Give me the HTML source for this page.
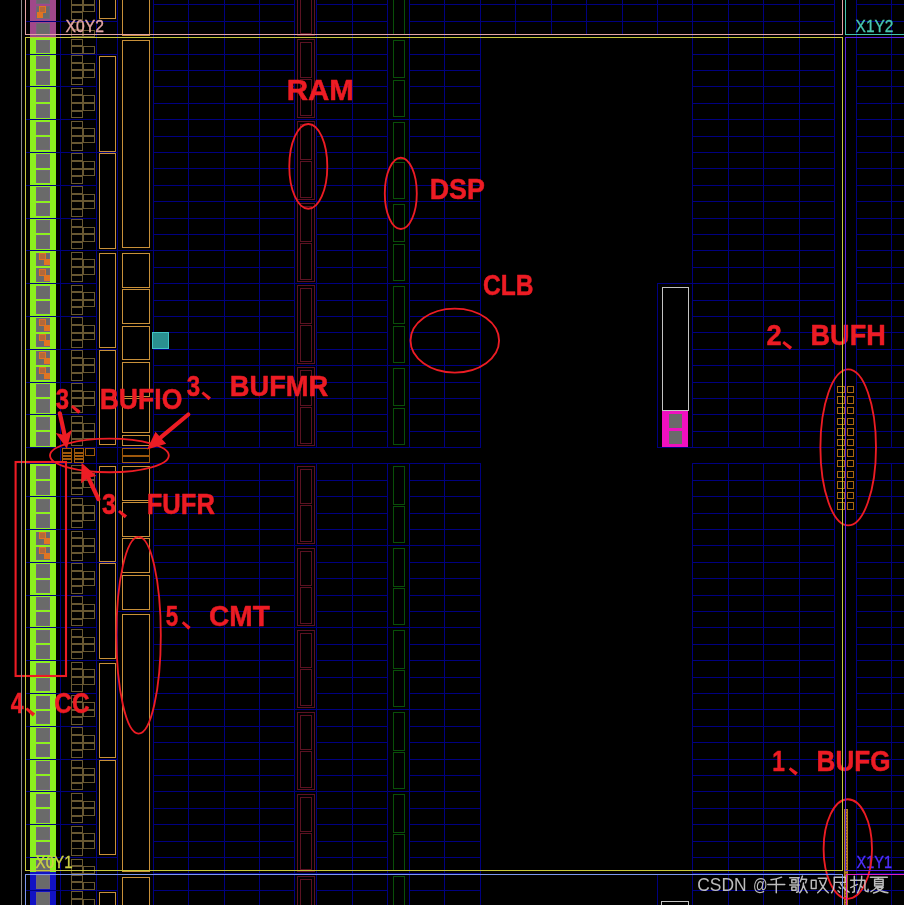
<!DOCTYPE html>
<html><head><meta charset="utf-8"><title>Device</title>
<style>
html,body{margin:0;padding:0;background:#000;}
body{width:904px;height:905px;overflow:hidden;font-family:"Liberation Sans",sans-serif;}
svg{display:block;}
text{font-family:"Liberation Sans",sans-serif;}
</style></head><body>
<svg width="904" height="905" viewBox="0 0 904 905">
<rect width="904" height="905" fill="#000"/>
<g shape-rendering="crispEdges">
<path d="M153 4.5H295M316 4.5H388M409 4.5H835M856 4.5H905M153 21.5H295M316 21.5H388M409 21.5H835M856 21.5H905M153 37.5H481M692 37.5H835M856 37.5H905M153 54.5H295M316 54.5H388M409 54.5H481M692 54.5H835M856 54.5H905M153 70.5H295M316 70.5H388M409 70.5H481M692 70.5H835M856 70.5H905M153 86.5H295M316 86.5H388M409 86.5H481M692 86.5H835M856 86.5H905M153 103.5H295M316 103.5H388M409 103.5H481M692 103.5H835M856 103.5H905M153 119.5H481M692 119.5H835M856 119.5H905M153 136.5H295M316 136.5H388M409 136.5H481M692 136.5H835M856 136.5H905M153 152.5H295M316 152.5H388M409 152.5H481M692 152.5H835M856 152.5H905M153 168.5H295M316 168.5H388M409 168.5H481M692 168.5H835M856 168.5H905M153 185.5H295M316 185.5H388M409 185.5H481M692 185.5H835M856 185.5H905M153 201.5H481M692 201.5H835M856 201.5H905M153 218.5H295M316 218.5H388M409 218.5H481M692 218.5H835M856 218.5H905M153 234.5H295M316 234.5H388M409 234.5H481M692 234.5H835M856 234.5H905M153 250.5H295M316 250.5H388M409 250.5H481M692 250.5H835M856 250.5H905M153 267.5H295M316 267.5H388M409 267.5H481M692 267.5H835M856 267.5H905M153 283.5H481M692 283.5H835M856 283.5H905M153 300.5H295M316 300.5H388M409 300.5H481M692 300.5H835M856 300.5H905M153 316.5H295M316 316.5H388M409 316.5H481M692 316.5H835M856 316.5H905M153 332.5H295M316 332.5H388M409 332.5H481M692 332.5H835M856 332.5H905M153 349.5H295M316 349.5H388M409 349.5H481M692 349.5H835M856 349.5H905M153 365.5H481M692 365.5H835M856 365.5H905M153 382.5H295M316 382.5H388M409 382.5H481M692 382.5H835M856 382.5H905M153 398.5H295M316 398.5H388M409 398.5H481M692 398.5H835M856 398.5H905M153 414.5H295M316 414.5H388M409 414.5H481M692 414.5H835M856 414.5H905M153 431.5H295M316 431.5H388M409 431.5H481M692 431.5H835M856 431.5H905M153 447.5H481M692 447.5H835M856 447.5H905M153 463.5H481M692 463.5H835M856 463.5H905M153 480.5H295M316 480.5H388M409 480.5H481M692 480.5H835M856 480.5H905M153 496.5H295M316 496.5H388M409 496.5H481M692 496.5H835M856 496.5H905M153 513.5H295M316 513.5H388M409 513.5H481M692 513.5H835M856 513.5H905M153 529.5H295M316 529.5H388M409 529.5H481M692 529.5H835M856 529.5H905M153 545.5H481M692 545.5H835M856 545.5H905M153 562.5H295M316 562.5H388M409 562.5H481M692 562.5H835M856 562.5H905M153 578.5H295M316 578.5H388M409 578.5H481M692 578.5H835M856 578.5H905M153 595.5H295M316 595.5H388M409 595.5H481M692 595.5H835M856 595.5H905M153 611.5H295M316 611.5H388M409 611.5H481M692 611.5H835M856 611.5H905M153 627.5H481M692 627.5H835M856 627.5H905M153 644.5H295M316 644.5H388M409 644.5H481M692 644.5H835M856 644.5H905M153 660.5H295M316 660.5H388M409 660.5H481M692 660.5H835M856 660.5H905M153 677.5H295M316 677.5H388M409 677.5H481M692 677.5H835M856 677.5H905M153 693.5H295M316 693.5H388M409 693.5H481M692 693.5H835M856 693.5H905M153 709.5H481M692 709.5H835M856 709.5H905M153 726.5H295M316 726.5H388M409 726.5H481M692 726.5H835M856 726.5H905M153 742.5H295M316 742.5H388M409 742.5H481M692 742.5H835M856 742.5H905M153 759.5H295M316 759.5H388M409 759.5H481M692 759.5H835M856 759.5H905M153 775.5H295M316 775.5H388M409 775.5H481M692 775.5H835M856 775.5H905M153 791.5H481M692 791.5H835M856 791.5H905M153 808.5H295M316 808.5H388M409 808.5H481M692 808.5H835M856 808.5H905M153 824.5H295M316 824.5H388M409 824.5H481M692 824.5H835M856 824.5H905M153 841.5H295M316 841.5H388M409 841.5H481M692 841.5H835M856 841.5H905M153 857.5H295M316 857.5H388M409 857.5H481M692 857.5H835M856 857.5H905M153 873.5H481M692 873.5H835M856 873.5H905M153 890.5H295M316 890.5H388M409 890.5H481M692 890.5H835M856 890.5H905M153.5 0V448M153.5 463V906M188.5 0V448M188.5 463V906M224.5 0V448M224.5 463V906M259.5 0V448M259.5 463V906M294.5 0V448M294.5 463V906M316.5 0V448M316.5 463V906M352.5 0V448M352.5 463V906M387.5 0V448M387.5 463V906M409.5 0V448M409.5 463V906M444.5 0V448M444.5 463V906M480.5 0V448M480.5 463V906M692.5 0V448M692.5 463V906M728.5 0V448M728.5 463V906M763.5 0V448M763.5 463V906M799.5 0V448M799.5 463V906M834.5 0V448M834.5 463V906M515.5 0V35M551.5 0V35M586.5 0V35M622.5 0V35M657.5 0V35M856.5 0V906M891.5 0V448M891.5 463V906M834.5 447V464M60.5 0V906M96.5 0V906M117.5 0V906M60 447.5H154M60 414.5H97M60 382.5H97M60 349.5H118M60 316.5H97M60 283.5H97M60 250.5H154M60 218.5H97M60 185.5H97M60 152.5H118M60 119.5H97M60 86.5H97M60 54.5H118M60 463.5H154M60 496.5H97M60 529.5H97M60 562.5H118M60 595.5H97M60 627.5H97M60 660.5H118M60 693.5H97M60 726.5H97M60 759.5H118M60 791.5H97M60 824.5H97M60 857.5H118M60 21.5H118M60 890.5H118M117 611.5H154M657.5 283V448M657 283.5H693M657 447.5H693M657.5 874V906" stroke="#000080" stroke-width="1" fill="none"/>
<rect x="30" y="0" width="26" height="37" fill="#a0488a"/>
<rect x="30" y="37" width="26" height="411" fill="#8cf01e"/>
<rect x="30" y="464" width="26" height="408" fill="#8cf01e"/>
<rect x="30" y="872" width="26" height="33" fill="#1212c4"/>
<rect x="36" y="417" width="14" height="13" fill="#6a6a6a"/>
<rect x="36.5" y="417.5" width="13" height="12" fill="none" stroke="#77628c" stroke-opacity="0.5"/>
<rect x="36" y="432" width="14" height="14" fill="#6a6a6a"/>
<rect x="36.5" y="432.5" width="13" height="13" fill="none" stroke="#77628c" stroke-opacity="0.5"/>
<rect x="36" y="384" width="14" height="13" fill="#6a6a6a"/>
<rect x="36.5" y="384.5" width="13" height="12" fill="none" stroke="#77628c" stroke-opacity="0.5"/>
<rect x="36" y="399" width="14" height="14" fill="#6a6a6a"/>
<rect x="36.5" y="399.5" width="13" height="13" fill="none" stroke="#77628c" stroke-opacity="0.5"/>
<rect x="36" y="351" width="14" height="14" fill="#6a6a6a"/>
<rect x="36.5" y="351.5" width="13" height="13" fill="none" stroke="#77628c" stroke-opacity="0.5"/>
<rect x="36" y="367" width="14" height="13" fill="#6a6a6a"/>
<rect x="36.5" y="367.5" width="13" height="12" fill="none" stroke="#77628c" stroke-opacity="0.5"/>
<rect x="36" y="318" width="14" height="14" fill="#6a6a6a"/>
<rect x="36.5" y="318.5" width="13" height="13" fill="none" stroke="#77628c" stroke-opacity="0.5"/>
<rect x="36" y="334" width="14" height="13" fill="#6a6a6a"/>
<rect x="36.5" y="334.5" width="13" height="12" fill="none" stroke="#77628c" stroke-opacity="0.5"/>
<rect x="36" y="286" width="14" height="13" fill="#6a6a6a"/>
<rect x="36.5" y="286.5" width="13" height="12" fill="none" stroke="#77628c" stroke-opacity="0.5"/>
<rect x="36" y="301" width="14" height="13" fill="#6a6a6a"/>
<rect x="36.5" y="301.5" width="13" height="12" fill="none" stroke="#77628c" stroke-opacity="0.5"/>
<rect x="36" y="253" width="14" height="13" fill="#6a6a6a"/>
<rect x="36.5" y="253.5" width="13" height="12" fill="none" stroke="#77628c" stroke-opacity="0.5"/>
<rect x="36" y="268" width="14" height="14" fill="#6a6a6a"/>
<rect x="36.5" y="268.5" width="13" height="13" fill="none" stroke="#77628c" stroke-opacity="0.5"/>
<rect x="36" y="220" width="14" height="13" fill="#6a6a6a"/>
<rect x="36.5" y="220.5" width="13" height="12" fill="none" stroke="#77628c" stroke-opacity="0.5"/>
<rect x="36" y="235" width="14" height="14" fill="#6a6a6a"/>
<rect x="36.5" y="235.5" width="13" height="13" fill="none" stroke="#77628c" stroke-opacity="0.5"/>
<rect x="36" y="187" width="14" height="14" fill="#6a6a6a"/>
<rect x="36.5" y="187.5" width="13" height="13" fill="none" stroke="#77628c" stroke-opacity="0.5"/>
<rect x="36" y="203" width="14" height="13" fill="#6a6a6a"/>
<rect x="36.5" y="203.5" width="13" height="12" fill="none" stroke="#77628c" stroke-opacity="0.5"/>
<rect x="36" y="154" width="14" height="14" fill="#6a6a6a"/>
<rect x="36.5" y="154.5" width="13" height="13" fill="none" stroke="#77628c" stroke-opacity="0.5"/>
<rect x="36" y="170" width="14" height="13" fill="#6a6a6a"/>
<rect x="36.5" y="170.5" width="13" height="12" fill="none" stroke="#77628c" stroke-opacity="0.5"/>
<rect x="36" y="122" width="14" height="13" fill="#6a6a6a"/>
<rect x="36.5" y="122.5" width="13" height="12" fill="none" stroke="#77628c" stroke-opacity="0.5"/>
<rect x="36" y="137" width="14" height="13" fill="#6a6a6a"/>
<rect x="36.5" y="137.5" width="13" height="12" fill="none" stroke="#77628c" stroke-opacity="0.5"/>
<rect x="36" y="89" width="14" height="13" fill="#6a6a6a"/>
<rect x="36.5" y="89.5" width="13" height="12" fill="none" stroke="#77628c" stroke-opacity="0.5"/>
<rect x="36" y="104" width="14" height="14" fill="#6a6a6a"/>
<rect x="36.5" y="104.5" width="13" height="13" fill="none" stroke="#77628c" stroke-opacity="0.5"/>
<rect x="36" y="56" width="14" height="13" fill="#6a6a6a"/>
<rect x="36.5" y="56.5" width="13" height="12" fill="none" stroke="#77628c" stroke-opacity="0.5"/>
<rect x="36" y="71" width="14" height="14" fill="#6a6a6a"/>
<rect x="36.5" y="71.5" width="13" height="13" fill="none" stroke="#77628c" stroke-opacity="0.5"/>
<rect x="36" y="40" width="14" height="13" fill="#6a6a6a"/>
<rect x="36.5" y="40.5" width="13" height="12" fill="none" stroke="#77628c" stroke-opacity="0.5"/>
<rect x="36" y="23" width="14" height="13" fill="#6a6a6a"/>
<rect x="36.5" y="23.5" width="13" height="12" fill="none" stroke="#77628c" stroke-opacity="0.5"/>
<rect x="36" y="-10" width="14" height="14" fill="#6a6a6a"/>
<rect x="36.5" y="-9.5" width="13" height="13" fill="none" stroke="#77628c" stroke-opacity="0.5"/>
<rect x="36" y="6" width="14" height="13" fill="#6a6a6a"/>
<rect x="36.5" y="6.5" width="13" height="12" fill="none" stroke="#77628c" stroke-opacity="0.5"/>
<rect x="36" y="466" width="14" height="13" fill="#6a6a6a"/>
<rect x="36.5" y="466.5" width="13" height="12" fill="none" stroke="#77628c" stroke-opacity="0.5"/>
<rect x="36" y="481" width="14" height="14" fill="#6a6a6a"/>
<rect x="36.5" y="481.5" width="13" height="13" fill="none" stroke="#77628c" stroke-opacity="0.5"/>
<rect x="36" y="499" width="14" height="13" fill="#6a6a6a"/>
<rect x="36.5" y="499.5" width="13" height="12" fill="none" stroke="#77628c" stroke-opacity="0.5"/>
<rect x="36" y="514" width="14" height="14" fill="#6a6a6a"/>
<rect x="36.5" y="514.5" width="13" height="13" fill="none" stroke="#77628c" stroke-opacity="0.5"/>
<rect x="36" y="532" width="14" height="13" fill="#6a6a6a"/>
<rect x="36.5" y="532.5" width="13" height="12" fill="none" stroke="#77628c" stroke-opacity="0.5"/>
<rect x="36" y="547" width="14" height="13" fill="#6a6a6a"/>
<rect x="36.5" y="547.5" width="13" height="12" fill="none" stroke="#77628c" stroke-opacity="0.5"/>
<rect x="36" y="564" width="14" height="14" fill="#6a6a6a"/>
<rect x="36.5" y="564.5" width="13" height="13" fill="none" stroke="#77628c" stroke-opacity="0.5"/>
<rect x="36" y="580" width="14" height="13" fill="#6a6a6a"/>
<rect x="36.5" y="580.5" width="13" height="12" fill="none" stroke="#77628c" stroke-opacity="0.5"/>
<rect x="36" y="597" width="14" height="13" fill="#6a6a6a"/>
<rect x="36.5" y="597.5" width="13" height="12" fill="none" stroke="#77628c" stroke-opacity="0.5"/>
<rect x="36" y="612" width="14" height="14" fill="#6a6a6a"/>
<rect x="36.5" y="612.5" width="13" height="13" fill="none" stroke="#77628c" stroke-opacity="0.5"/>
<rect x="36" y="630" width="14" height="13" fill="#6a6a6a"/>
<rect x="36.5" y="630.5" width="13" height="12" fill="none" stroke="#77628c" stroke-opacity="0.5"/>
<rect x="36" y="645" width="14" height="14" fill="#6a6a6a"/>
<rect x="36.5" y="645.5" width="13" height="13" fill="none" stroke="#77628c" stroke-opacity="0.5"/>
<rect x="36" y="663" width="14" height="13" fill="#6a6a6a"/>
<rect x="36.5" y="663.5" width="13" height="12" fill="none" stroke="#77628c" stroke-opacity="0.5"/>
<rect x="36" y="678" width="14" height="13" fill="#6a6a6a"/>
<rect x="36.5" y="678.5" width="13" height="12" fill="none" stroke="#77628c" stroke-opacity="0.5"/>
<rect x="36" y="696" width="14" height="13" fill="#6a6a6a"/>
<rect x="36.5" y="696.5" width="13" height="12" fill="none" stroke="#77628c" stroke-opacity="0.5"/>
<rect x="36" y="711" width="14" height="13" fill="#6a6a6a"/>
<rect x="36.5" y="711.5" width="13" height="12" fill="none" stroke="#77628c" stroke-opacity="0.5"/>
<rect x="36" y="728" width="14" height="14" fill="#6a6a6a"/>
<rect x="36.5" y="728.5" width="13" height="13" fill="none" stroke="#77628c" stroke-opacity="0.5"/>
<rect x="36" y="744" width="14" height="13" fill="#6a6a6a"/>
<rect x="36.5" y="744.5" width="13" height="12" fill="none" stroke="#77628c" stroke-opacity="0.5"/>
<rect x="36" y="761" width="14" height="13" fill="#6a6a6a"/>
<rect x="36.5" y="761.5" width="13" height="12" fill="none" stroke="#77628c" stroke-opacity="0.5"/>
<rect x="36" y="776" width="14" height="14" fill="#6a6a6a"/>
<rect x="36.5" y="776.5" width="13" height="13" fill="none" stroke="#77628c" stroke-opacity="0.5"/>
<rect x="36" y="794" width="14" height="13" fill="#6a6a6a"/>
<rect x="36.5" y="794.5" width="13" height="12" fill="none" stroke="#77628c" stroke-opacity="0.5"/>
<rect x="36" y="809" width="14" height="14" fill="#6a6a6a"/>
<rect x="36.5" y="809.5" width="13" height="13" fill="none" stroke="#77628c" stroke-opacity="0.5"/>
<rect x="36" y="827" width="14" height="13" fill="#6a6a6a"/>
<rect x="36.5" y="827.5" width="13" height="12" fill="none" stroke="#77628c" stroke-opacity="0.5"/>
<rect x="36" y="842" width="14" height="13" fill="#6a6a6a"/>
<rect x="36.5" y="842.5" width="13" height="12" fill="none" stroke="#77628c" stroke-opacity="0.5"/>
<rect x="36" y="860" width="14" height="12" fill="#6a6a6a"/>
<rect x="36.5" y="860.5" width="13" height="11" fill="none" stroke="#77628c" stroke-opacity="0.5"/>
<rect x="36" y="875" width="14" height="14" fill="#6a6a6a"/>
<rect x="36.5" y="875.5" width="13" height="13" fill="none" stroke="#77628c" stroke-opacity="0.5"/>
<rect x="36" y="892" width="14" height="14" fill="#6a6a6a"/>
<rect x="36.5" y="892.5" width="13" height="13" fill="none" stroke="#77628c" stroke-opacity="0.5"/>
<rect x="36" y="908" width="14" height="13" fill="#6a6a6a"/>
<rect x="36.5" y="908.5" width="13" height="12" fill="none" stroke="#77628c" stroke-opacity="0.5"/>
<rect x="39.5" y="253.5" width="6" height="6" fill="#b4683a" stroke="#e07422" stroke-width="1"/>
<rect x="44" y="259" width="6" height="6" fill="#e07422"/>
<rect x="39.5" y="269.5" width="6" height="6" fill="#b4683a" stroke="#e07422" stroke-width="1"/>
<rect x="44" y="275" width="6" height="6" fill="#e07422"/>
<rect x="39.5" y="319.5" width="6" height="6" fill="#b4683a" stroke="#e07422" stroke-width="1"/>
<rect x="44" y="325" width="6" height="6" fill="#e07422"/>
<rect x="39.5" y="334.5" width="6" height="6" fill="#b4683a" stroke="#e07422" stroke-width="1"/>
<rect x="44" y="340" width="6" height="6" fill="#e07422"/>
<rect x="39.5" y="352.5" width="6" height="6" fill="#b4683a" stroke="#e07422" stroke-width="1"/>
<rect x="44" y="358" width="6" height="6" fill="#e07422"/>
<rect x="39.5" y="367.5" width="6" height="6" fill="#b4683a" stroke="#e07422" stroke-width="1"/>
<rect x="44" y="373" width="6" height="6" fill="#e07422"/>
<rect x="39.5" y="532.5" width="6" height="6" fill="#b4683a" stroke="#e07422" stroke-width="1"/>
<rect x="44" y="538" width="6" height="6" fill="#e07422"/>
<rect x="39.5" y="547.5" width="6" height="6" fill="#b4683a" stroke="#e07422" stroke-width="1"/>
<rect x="44" y="553" width="6" height="6" fill="#e07422"/>
<rect x="39.5" y="6.5" width="6" height="6" fill="#b4683a" stroke="#e07422" stroke-width="1"/>
<rect x="37" y="12" width="6" height="6" fill="#e07422"/>
<path d="M26 447.5H61M26 414.5H61M26 382.5H61M26 349.5H61M26 316.5H61M26 283.5H61M26 250.5H61M26 218.5H61M26 185.5H61M26 152.5H61M26 119.5H61M26 86.5H61M26 54.5H61M26 463.5H61M26 496.5H61M26 529.5H61M26 562.5H61M26 595.5H61M26 627.5H61M26 660.5H61M26 693.5H61M26 726.5H61M26 759.5H61M26 791.5H61M26 824.5H61M26 857.5H61M26 21.5H61M26 890.5H61" stroke="#000080" stroke-width="1" fill="none"/>
<path d="M71.5 416.5H82.5V422.5H71.5ZM71.5 423.5H82.5V430.5H71.5ZM71.5 431.5H82.5V438.5H71.5ZM71.5 439.5H82.5V445.5H71.5ZM83.5 423.5H94.5V430.5H83.5ZM83.5 431.5H94.5V438.5H83.5ZM71.5 383.5H82.5V390.5H71.5ZM71.5 391.5H82.5V397.5H71.5ZM71.5 398.5H82.5V405.5H71.5ZM71.5 406.5H82.5V412.5H71.5ZM83.5 391.5H94.5V397.5H83.5ZM83.5 398.5H94.5V405.5H83.5ZM71.5 350.5H82.5V357.5H71.5ZM71.5 358.5H82.5V364.5H71.5ZM71.5 365.5H82.5V372.5H71.5ZM71.5 373.5H82.5V380.5H71.5ZM83.5 358.5H94.5V364.5H83.5ZM83.5 365.5H94.5V372.5H83.5ZM71.5 317.5H82.5V324.5H71.5ZM71.5 325.5H82.5V332.5H71.5ZM71.5 333.5H82.5V339.5H71.5ZM71.5 340.5H82.5V347.5H71.5ZM83.5 325.5H94.5V332.5H83.5ZM83.5 333.5H94.5V339.5H83.5ZM71.5 285.5H82.5V291.5H71.5ZM71.5 292.5H82.5V299.5H71.5ZM71.5 300.5H82.5V306.5H71.5ZM71.5 307.5H82.5V314.5H71.5ZM83.5 292.5H94.5V299.5H83.5ZM83.5 300.5H94.5V306.5H83.5ZM71.5 252.5H82.5V258.5H71.5ZM71.5 259.5H82.5V266.5H71.5ZM71.5 267.5H82.5V274.5H71.5ZM71.5 275.5H82.5V281.5H71.5ZM83.5 259.5H94.5V266.5H83.5ZM83.5 267.5H94.5V274.5H83.5ZM71.5 219.5H82.5V226.5H71.5ZM71.5 227.5H82.5V233.5H71.5ZM71.5 234.5H82.5V241.5H71.5ZM71.5 242.5H82.5V248.5H71.5ZM83.5 227.5H94.5V233.5H83.5ZM83.5 234.5H94.5V241.5H83.5ZM71.5 186.5H82.5V193.5H71.5ZM71.5 194.5H82.5V200.5H71.5ZM71.5 201.5H82.5V208.5H71.5ZM71.5 209.5H82.5V216.5H71.5ZM83.5 194.5H94.5V200.5H83.5ZM83.5 201.5H94.5V208.5H83.5ZM71.5 153.5H82.5V160.5H71.5ZM71.5 161.5H82.5V168.5H71.5ZM71.5 169.5H82.5V175.5H71.5ZM71.5 176.5H82.5V183.5H71.5ZM83.5 161.5H94.5V168.5H83.5ZM83.5 169.5H94.5V175.5H83.5ZM71.5 121.5H82.5V127.5H71.5ZM71.5 128.5H82.5V135.5H71.5ZM71.5 136.5H82.5V142.5H71.5ZM71.5 143.5H82.5V150.5H71.5ZM83.5 128.5H94.5V135.5H83.5ZM83.5 136.5H94.5V142.5H83.5ZM71.5 88.5H82.5V94.5H71.5ZM71.5 95.5H82.5V102.5H71.5ZM71.5 103.5H82.5V110.5H71.5ZM71.5 111.5H82.5V117.5H71.5ZM83.5 95.5H94.5V102.5H83.5ZM83.5 103.5H94.5V110.5H83.5ZM71.5 55.5H82.5V62.5H71.5ZM71.5 63.5H82.5V69.5H71.5ZM71.5 70.5H82.5V77.5H71.5ZM71.5 78.5H82.5V84.5H71.5ZM83.5 63.5H94.5V69.5H83.5ZM83.5 70.5H94.5V77.5H83.5ZM71.5 39.5H82.5V45.5H71.5ZM71.5 46.5H82.5V53.5H71.5ZM83.5 46.5H94.5V53.5H83.5ZM71.5 22.5H82.5V29.5H71.5ZM71.5 30.5H82.5V36.5H71.5ZM83.5 30.5H94.5V36.5H83.5ZM71.5 -10.5H82.5V-3.5H71.5ZM71.5 -2.5H82.5V4.5H71.5ZM71.5 5.5H82.5V11.5H71.5ZM71.5 12.5H82.5V19.5H71.5ZM83.5 -2.5H94.5V4.5H83.5ZM83.5 5.5H94.5V11.5H83.5ZM71.5 465.5H82.5V472.5H71.5ZM71.5 473.5H82.5V479.5H71.5ZM71.5 480.5H82.5V487.5H71.5ZM71.5 488.5H82.5V494.5H71.5ZM83.5 473.5H94.5V479.5H83.5ZM83.5 480.5H94.5V487.5H83.5ZM71.5 498.5H82.5V504.5H71.5ZM71.5 505.5H82.5V512.5H71.5ZM71.5 513.5H82.5V520.5H71.5ZM71.5 521.5H82.5V527.5H71.5ZM83.5 505.5H94.5V512.5H83.5ZM83.5 513.5H94.5V520.5H83.5ZM71.5 531.5H82.5V537.5H71.5ZM71.5 538.5H82.5V545.5H71.5ZM71.5 546.5H82.5V552.5H71.5ZM71.5 553.5H82.5V560.5H71.5ZM83.5 538.5H94.5V545.5H83.5ZM83.5 546.5H94.5V552.5H83.5ZM71.5 563.5H82.5V570.5H71.5ZM71.5 571.5H82.5V578.5H71.5ZM71.5 579.5H82.5V585.5H71.5ZM71.5 586.5H82.5V593.5H71.5ZM83.5 571.5H94.5V578.5H83.5ZM83.5 579.5H94.5V585.5H83.5ZM71.5 596.5H82.5V603.5H71.5ZM71.5 604.5H82.5V610.5H71.5ZM71.5 611.5H82.5V618.5H71.5ZM71.5 619.5H82.5V625.5H71.5ZM83.5 604.5H94.5V610.5H83.5ZM83.5 611.5H94.5V618.5H83.5ZM71.5 629.5H82.5V636.5H71.5ZM71.5 637.5H82.5V643.5H71.5ZM71.5 644.5H82.5V651.5H71.5ZM71.5 652.5H82.5V658.5H71.5ZM83.5 637.5H94.5V643.5H83.5ZM83.5 644.5H94.5V651.5H83.5ZM71.5 662.5H82.5V668.5H71.5ZM71.5 669.5H82.5V676.5H71.5ZM71.5 677.5H82.5V684.5H71.5ZM71.5 684.5H82.5V691.5H71.5ZM83.5 669.5H94.5V676.5H83.5ZM83.5 677.5H94.5V684.5H83.5ZM71.5 695.5H82.5V701.5H71.5ZM71.5 702.5H82.5V709.5H71.5ZM71.5 710.5H82.5V716.5H71.5ZM71.5 717.5H82.5V724.5H71.5ZM83.5 702.5H94.5V709.5H83.5ZM83.5 710.5H94.5V716.5H83.5ZM71.5 727.5H82.5V734.5H71.5ZM71.5 735.5H82.5V742.5H71.5ZM71.5 743.5H82.5V749.5H71.5ZM71.5 750.5H82.5V757.5H71.5ZM83.5 735.5H94.5V742.5H83.5ZM83.5 743.5H94.5V749.5H83.5ZM71.5 760.5H82.5V767.5H71.5ZM71.5 768.5H82.5V774.5H71.5ZM71.5 775.5H82.5V782.5H71.5ZM71.5 783.5H82.5V789.5H71.5ZM83.5 768.5H94.5V774.5H83.5ZM83.5 775.5H94.5V782.5H83.5ZM71.5 793.5H82.5V800.5H71.5ZM71.5 801.5H82.5V807.5H71.5ZM71.5 808.5H82.5V815.5H71.5ZM71.5 816.5H82.5V822.5H71.5ZM83.5 801.5H94.5V807.5H83.5ZM83.5 808.5H94.5V815.5H83.5ZM71.5 826.5H82.5V832.5H71.5ZM71.5 833.5H82.5V840.5H71.5ZM71.5 841.5H82.5V848.5H71.5ZM71.5 848.5H82.5V855.5H71.5ZM83.5 833.5H94.5V840.5H83.5ZM83.5 841.5H94.5V848.5H83.5ZM71.5 859.5H82.5V865.5H71.5ZM71.5 866.5H82.5V873.5H71.5ZM83.5 866.5H94.5V873.5H83.5ZM71.5 875.5H82.5V881.5H71.5ZM71.5 882.5H82.5V889.5H71.5ZM83.5 882.5H94.5V889.5H83.5ZM71.5 891.5H82.5V898.5H71.5ZM71.5 899.5H82.5V906.5H71.5ZM71.5 907.5H82.5V913.5H71.5ZM71.5 914.5H82.5V921.5H71.5ZM83.5 899.5H94.5V906.5H83.5ZM83.5 907.5H94.5V913.5H83.5Z" stroke="#685832" stroke-width="1" fill="none"/>
<path d="M99.5 -49.5H115.5V18.5H99.5ZM99.5 56.5H115.5V151.5H99.5ZM99.5 153.5H115.5V248.5H99.5ZM99.5 253.5H115.5V347.5H99.5ZM99.5 350.5H115.5V444.5H99.5ZM99.5 466.5H115.5V561.5H99.5ZM99.5 563.5H115.5V658.5H99.5ZM99.5 663.5H115.5V757.5H99.5ZM99.5 760.5H115.5V854.5H99.5ZM99.5 892.5H115.5V950.5H99.5ZM122.5 -49.5H149.5V35.5H122.5ZM122.5 40.5H149.5V247.5H122.5ZM122.5 253.5H149.5V287.5H122.5ZM122.5 289.5H149.5V323.5H122.5ZM122.5 326.5H149.5V359.5H122.5ZM122.5 362.5H149.5V396.5H122.5ZM122.5 398.5H149.5V432.5H122.5ZM122.5 435.5H149.5V445.5H122.5ZM122.5 466.5H149.5V500.5H122.5ZM122.5 502.5H149.5V536.5H122.5ZM122.5 538.5H149.5V572.5H122.5ZM122.5 575.5H149.5V609.5H122.5ZM122.5 614.5H149.5V871.5H122.5ZM122.5 877.5H149.5V950.5H122.5Z" stroke="#c8903a" stroke-width="1" fill="none"/>
<path d="M62.5 448.5H71.5V452.5H62.5ZM62.5 452.5H71.5V455.5H62.5ZM62 453.5H72M62.5 455.5H71.5V458.5H62.5ZM62 456.5H72M62.5 458.5H71.5V462.5H62.5ZM62 459.5H72M74.5 448.5H83.5V452.5H74.5ZM74.5 452.5H83.5V455.5H74.5ZM74 453.5H84M74.5 455.5H83.5V458.5H74.5ZM74 456.5H84M74.5 458.5H83.5V462.5H74.5ZM74 459.5H84M85.5 448.5H94.5V455.5H85.5ZM122.5 448.5H149.5V455.5H122.5ZM122.5 456.5H149.5V462.5H122.5Z" stroke="#9e580c" stroke-width="1" fill="none"/>
<path d="M837.5 386.5H844.5V392.5H837.5ZM847.5 386.5H853.5V392.5H847.5ZM837.5 396.5H844.5V403.5H837.5ZM847.5 396.5H853.5V403.5H847.5ZM837.5 407.5H844.5V413.5H837.5ZM847.5 407.5H853.5V413.5H847.5ZM837.5 418.5H844.5V424.5H837.5ZM847.5 418.5H853.5V424.5H847.5ZM837.5 428.5H844.5V435.5H837.5ZM847.5 428.5H853.5V435.5H847.5ZM837.5 439.5H844.5V445.5H837.5ZM847.5 439.5H853.5V445.5H847.5ZM837.5 449.5H844.5V456.5H837.5ZM847.5 449.5H853.5V456.5H847.5ZM837.5 460.5H844.5V466.5H837.5ZM847.5 460.5H853.5V466.5H847.5ZM837.5 471.5H844.5V477.5H837.5ZM847.5 471.5H853.5V477.5H847.5ZM837.5 481.5H844.5V488.5H837.5ZM847.5 481.5H853.5V488.5H847.5ZM837.5 492.5H844.5V498.5H837.5ZM847.5 492.5H853.5V498.5H847.5ZM837.5 502.5H844.5V509.5H837.5ZM847.5 502.5H853.5V509.5H847.5Z" stroke="#aa6612" stroke-width="1" fill="none"/>
<path d="M297.5 367.5H314.5V445.5H297.5ZM300.5 370.5H311.5V405.5H300.5ZM300.5 407.5H311.5V443.5H300.5ZM297.5 285.5H314.5V363.5H297.5ZM300.5 288.5H311.5V323.5H300.5ZM300.5 325.5H311.5V361.5H300.5ZM297.5 203.5H314.5V281.5H297.5ZM300.5 206.5H311.5V241.5H300.5ZM300.5 243.5H311.5V279.5H300.5ZM297.5 121.5H314.5V199.5H297.5ZM300.5 124.5H311.5V159.5H300.5ZM300.5 161.5H311.5V197.5H300.5ZM297.5 39.5H314.5V117.5H297.5ZM300.5 42.5H311.5V77.5H300.5ZM300.5 79.5H311.5V115.5H300.5ZM297.5 -42.5H314.5V35.5H297.5ZM300.5 -39.5H311.5V-4.5H300.5ZM300.5 -2.5H311.5V33.5H300.5ZM297.5 466.5H314.5V543.5H297.5ZM300.5 469.5H311.5V503.5H300.5ZM300.5 505.5H311.5V541.5H300.5ZM297.5 548.5H314.5V625.5H297.5ZM300.5 551.5H311.5V585.5H300.5ZM300.5 587.5H311.5V623.5H300.5ZM297.5 630.5H314.5V707.5H297.5ZM300.5 633.5H311.5V667.5H300.5ZM300.5 669.5H311.5V705.5H300.5ZM297.5 712.5H314.5V789.5H297.5ZM300.5 715.5H311.5V749.5H300.5ZM300.5 751.5H311.5V787.5H300.5ZM297.5 794.5H314.5V871.5H297.5ZM300.5 797.5H311.5V831.5H300.5ZM300.5 833.5H311.5V869.5H300.5ZM297.5 876.5H314.5V953.5H297.5ZM300.5 879.5H311.5V913.5H300.5ZM300.5 915.5H311.5V951.5H300.5Z" stroke="#5a1222" stroke-width="1" fill="none"/>
<path d="M393.5 368.5H404.5V405.5H393.5ZM393.5 408.5H404.5V444.5H393.5ZM393.5 286.5H404.5V323.5H393.5ZM393.5 326.5H404.5V362.5H393.5ZM393.5 204.5H404.5V241.5H393.5ZM393.5 244.5H404.5V280.5H393.5ZM393.5 122.5H404.5V159.5H393.5ZM393.5 162.5H404.5V198.5H393.5ZM393.5 40.5H404.5V77.5H393.5ZM393.5 80.5H404.5V116.5H393.5ZM393.5 -41.5H404.5V-4.5H393.5ZM393.5 -1.5H404.5V34.5H393.5ZM393.5 466.5H404.5V504.5H393.5ZM393.5 506.5H404.5V542.5H393.5ZM393.5 548.5H404.5V586.5H393.5ZM393.5 588.5H404.5V624.5H393.5ZM393.5 630.5H404.5V668.5H393.5ZM393.5 670.5H404.5V706.5H393.5ZM393.5 712.5H404.5V750.5H393.5ZM393.5 752.5H404.5V788.5H393.5ZM393.5 794.5H404.5V832.5H393.5ZM393.5 834.5H404.5V870.5H393.5ZM393.5 876.5H404.5V914.5H393.5ZM393.5 916.5H404.5V952.5H393.5Z" stroke="#094e09" stroke-width="1" fill="none"/>
<rect x="152.5" y="332.5" width="16" height="16" fill="#2a9090" stroke="#40c4c4"/>
<rect x="662.5" y="287.5" width="26" height="123" fill="none" stroke="#c4c4c4"/>
<rect x="662" y="411" width="26" height="36" fill="#f010c0"/>
<rect x="669" y="414" width="13" height="14" fill="#6a6a6a"/>
<rect x="669" y="431" width="13" height="13" fill="#6a6a6a"/>
<rect x="661.5" y="901.5" width="27" height="10" fill="none" stroke="#c4c4c4"/>
<rect x="844" y="809" width="4" height="100" fill="#8a5a10"/>
<path d="M844 809.5H848M844 812.5H848M844 815.5H848M844 818.5H848M844 821.5H848M844 824.5H848M844 827.5H848M844 830.5H848M844 833.5H848M844 836.5H848M844 839.5H848M844 842.5H848M844 845.5H848M844 848.5H848M844 851.5H848M844 854.5H848M844 857.5H848M844 860.5H848M844 863.5H848M844 866.5H848M844 869.5H848M844 872.5H848M844 875.5H848M844 878.5H848M844 881.5H848M844 884.5H848M844 887.5H848M844 890.5H848M844 893.5H848M844 896.5H848M844 899.5H848M844 902.5H848" stroke="#c08428" stroke-width="1" fill="none"/>
<path d="M844.5 809V905M847.5 809V905" stroke="#b87c20" stroke-width="1" fill="none"/>
</g>
<defs><filter id="na" x="-5%" y="-20%" width="110%" height="140%"><feOffset dx="0" dy="0"/></filter></defs>
<g>
<text filter="url(#na)" x="65.6" y="32" font-size="17" fill="#e2a4a4" stroke="#e2a4a4" stroke-width="0.35" textLength="38.4" lengthAdjust="spacingAndGlyphs" opacity="1">X0Y2</text>
<text filter="url(#na)" x="855.6" y="31.8" font-size="17" fill="#48c8b0" stroke="#48c8b0" stroke-width="0.35" textLength="37.8" lengthAdjust="spacingAndGlyphs" opacity="1">X1Y2</text>
<text filter="url(#na)" x="35.6" y="867.9" font-size="17" fill="#ccd044" stroke="#ccd044" stroke-width="0.35" textLength="37" lengthAdjust="spacingAndGlyphs" opacity="1">X0Y1</text>
<text filter="url(#na)" x="856.6" y="867.6" font-size="17" fill="#5030ff" stroke="#5030ff" stroke-width="0.35" textLength="35.4" lengthAdjust="spacingAndGlyphs" opacity="1">X1Y1</text>
</g>
<g fill="none" stroke="#ed1c24" stroke-width="1.85">
<ellipse cx="308.3" cy="166.4" rx="19" ry="42.4"/>
<ellipse cx="400.8" cy="193.4" rx="16" ry="35.6"/>
<ellipse cx="454.8" cy="340.6" rx="44.3" ry="32"/>
<ellipse cx="109.4" cy="455.4" rx="59.4" ry="16.8"/>
<ellipse cx="138.6" cy="635.2" rx="22.2" ry="98.4"/>
<ellipse cx="848.2" cy="447.4" rx="27.8" ry="78"/>
<ellipse cx="847.8" cy="849" rx="24.2" ry="49.8"/>
<rect x="15.6" y="462" width="50.4" height="214" stroke-width="2.1"/>
</g>
<g fill="#ed1c24" stroke="#ed1c24">
<path d="M59.8 413.3L64.6 435" stroke-width="4.2" stroke-linecap="round" fill="none"/>
<path d="M66.9 448.7L55.6 433.1L64.6 435L71.9 429.7Z" stroke="none"/>
<path d="M188.3 414.5L160.5 437.6" stroke-width="4.2" stroke-linecap="round" fill="none"/>
<path d="M147 449.4L155.5 431.7L160.5 437.6L166.2 443.7Z" stroke="none"/>
<path d="M98.4 499.1L88.4 477.8" stroke-width="4.2" stroke-linecap="round" fill="none"/>
<path d="M81.6 462.8L81.1 483.2L88.4 477.8L96.3 476.1Z" stroke="none"/>
</g>
<g fill="#ed1c24" stroke="#ed1c24" stroke-width="0.5" stroke-linejoin="round" font-weight="bold" font-size="28.6">
<text filter="url(#na)" x="286.7" y="100.4" textLength="67.2" lengthAdjust="spacingAndGlyphs">RAM</text>
<text filter="url(#na)" x="429.7" y="198.5" textLength="55.1" lengthAdjust="spacingAndGlyphs">DSP</text>
<text filter="url(#na)" x="482.9" y="294.5" textLength="50.5" lengthAdjust="spacingAndGlyphs">CLB</text>
<text filter="url(#na)" x="766.6" y="345.3" textLength="15.2" lengthAdjust="spacingAndGlyphs">2</text>
<path d="M782.4 343.2 L789.9 349.7 L792.1 346.9 L784.0 341.0 Z" stroke="none" fill="#ed1c24"/>
<text filter="url(#na)" x="810.6" y="345.3" textLength="75.1" lengthAdjust="spacingAndGlyphs">BUFH</text>
<text filter="url(#na)" x="772.3" y="771.4" textLength="12.6" lengthAdjust="spacingAndGlyphs">1</text>
<path d="M788.8 769.5 L795.6 775.4 L797.8 772.6 L790.4 767.3 Z" stroke="none" fill="#ed1c24"/>
<text filter="url(#na)" x="816.6" y="771.4" textLength="73.9" lengthAdjust="spacingAndGlyphs">BUFG</text>
<text filter="url(#na)" x="55.8" y="408.8" textLength="13.3" lengthAdjust="spacingAndGlyphs">3</text>
<path d="M70.9 406.9 L78.3 413.7 L80.7 410.9 L72.7 404.9 Z" stroke="none" fill="#ed1c24"/>
<text filter="url(#na)" x="99.7" y="408.8" textLength="82.6" lengthAdjust="spacingAndGlyphs">BUFIO</text>
<text filter="url(#na)" x="186.7" y="395.7" textLength="13.4" lengthAdjust="spacingAndGlyphs">3</text>
<path d="M201.5 393.5 L208.6 400.3 L211.0 397.5 L203.3 391.5 Z" stroke="none" fill="#ed1c24"/>
<text filter="url(#na)" x="229.7" y="395.7" textLength="98.6" lengthAdjust="spacingAndGlyphs">BUFMR</text>
<text filter="url(#na)" x="101.9" y="514.4" textLength="14" lengthAdjust="spacingAndGlyphs">3</text>
<path d="M118.0 511.9 L124.7 518.3 L127.1 515.5 L119.8 509.9 Z" stroke="none" fill="#ed1c24"/>
<text filter="url(#na)" x="146.7" y="514.4" textLength="68.2" lengthAdjust="spacingAndGlyphs">FUFR</text>
<text filter="url(#na)" x="10.7" y="712.9" textLength="12.7" lengthAdjust="spacingAndGlyphs">4</text>
<path d="M25.4 709.4 L32.8 716.4 L35.2 713.6 L27.2 707.4 Z" stroke="none" fill="#ed1c24"/>
<text filter="url(#na)" x="54.3" y="712.9" textLength="35.2" lengthAdjust="spacingAndGlyphs">CC</text>
<text filter="url(#na)" x="165.7" y="625.6" textLength="12.4" lengthAdjust="spacingAndGlyphs">5</text>
<path d="M181.8 623.3 L188.3 629.7 L190.7 627.1 L183.6 621.3 Z" stroke="none" fill="#ed1c24"/>
<text filter="url(#na)" x="209.1" y="625.6" textLength="60.8" lengthAdjust="spacingAndGlyphs">CMT</text>
</g>
<g opacity="0.92">
<text filter="url(#na)" x="697.2" y="890.6" font-size="17.6" fill="#cccccc" textLength="49.4" lengthAdjust="spacingAndGlyphs">CSDN</text>
<text filter="url(#na)" x="753.0" y="890.6" font-size="17.6" fill="#cccccc" textLength="14.6" lengthAdjust="spacingAndGlyphs">@</text>
<path transform="translate(767.8 875.6) scale(1.06 1.04)" d="M13 1.5Q8 3.5 3 4M0 8.5H16M8 3.5V16.5" stroke="#cccccc" stroke-width="1.4" fill="none" stroke-linecap="round" stroke-linejoin="round"/>
<path transform="translate(789.7 875.6) scale(1.06 1.04)" d="M0 2H9M2 4H6V7H2ZM8 2V8M0 9H9M2 11H6V14H2ZM8 9V15.5L6.5 16M12 0.5L10 6M11.5 3.5H16L15 7M13 7Q13 12 9.5 16.5M13 9Q14 13 16.5 16.5" stroke="#cccccc" stroke-width="1.4" fill="none" stroke-linecap="round" stroke-linejoin="round"/>
<path transform="translate(810.8 875.6) scale(1.06 1.04)" d="M0.5 4.5H5V12.5H0.5ZM7 2.5H15Q13 11 6.5 16.5M8.5 5Q11 12 16.5 16.5" stroke="#cccccc" stroke-width="1.4" fill="none" stroke-linecap="round" stroke-linejoin="round"/>
<path transform="translate(831.6 875.6) scale(1.06 1.04)" d="M2.5 1.5H13.5V6.5H2.5M2.5 1.5V8Q2.5 13 0 16.5M8 6.5Q10 12 16.5 16M7 11L8.5 12.5M6 14.5L7.5 16" stroke="#cccccc" stroke-width="1.4" fill="none" stroke-linecap="round" stroke-linejoin="round"/>
<path transform="translate(850.6 875.6) scale(1.06 1.04)" d="M0 4.5H6.5M3.5 0.5V15.5L2 16M0 11.5L6.5 8.5M7.5 4.5H13.5V13Q13.5 15.5 16.5 15.5V13M10.5 0.5Q10.5 10 6.5 16.5M9 9L11 11.5" stroke="#cccccc" stroke-width="1.4" fill="none" stroke-linecap="round" stroke-linejoin="round"/>
<path transform="translate(870.4 875.6) scale(1.06 1.04)" d="M0 1.5H16M8 1.5L7 3.5M4 3.5H12V10H4ZM4 5.7H12M4 7.9H12M6.5 10Q5 13 0.5 15.5M6 11.5H12Q9 15 3 16.8M6.5 12.5Q10 15.5 16.5 16.5" stroke="#cccccc" stroke-width="1.4" fill="none" stroke-linecap="round" stroke-linejoin="round"/>
</g>
<g shape-rendering="crispEdges">
<path d="M21.5 0V905" stroke="#8c8c8c" fill="none"/>
<path d="M25.5 0V34.5H842.5V0" stroke="#e2a4a4" fill="none"/>
<path d="M25.5 37.5H842.5V870.5H25.5Z" stroke="#c8c83c" fill="none"/>
<path d="M25.5 905V874.5H842.5V905" stroke="#7c98ee" fill="none"/>
<path d="M845.5 0V34.5H905" stroke="#44c4ac" fill="none"/>
<path d="M905 37.5H845.5V870.5H905" stroke="#5a24e0" fill="none"/>
<path d="M846.5 905V874.5H905" stroke="#e020c0" fill="none"/>
</g>
</svg>
</body></html>
